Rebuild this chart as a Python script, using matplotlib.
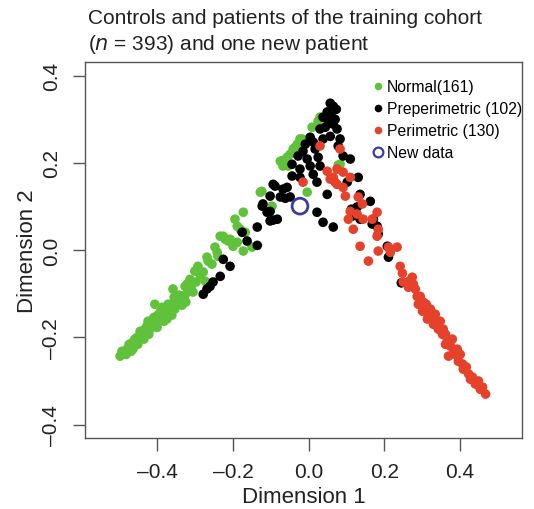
import matplotlib

matplotlib.use("Agg")
import matplotlib.pyplot as plt  # noqa: E402
from matplotlib.lines import Line2D  # noqa: E402

# --- data (dimension 1 / dimension 2) ---------------------------------------
normal_x = [
    -0.499, -0.489, -0.481, -0.473, -0.465, -0.465, -0.457, -0.454, -0.446, -0.446,
    -0.438, -0.433, -0.428, -0.428, -0.420, -0.420, -0.412, -0.407, -0.404, -0.399,
    -0.393, -0.385, -0.380, -0.375, -0.367, -0.367, -0.359, -0.359, -0.354, -0.346,
    -0.340, -0.335, -0.327, -0.327, -0.319, -0.314, -0.306, -0.301, -0.293, -0.274,
    -0.269, -0.266, -0.242, -0.240, -0.234, -0.226, -0.213, -0.208, -0.200, -0.195,
    -0.189, -0.189, -0.173, -0.173, -0.168, -0.150, -0.128, -0.124, -0.097, -0.075,
    -0.068, -0.057, -0.054, -0.068, -0.041, -0.036, -0.023, -0.017, -0.004, 0.025,
    0.030, 0.078, 0.083, -0.049, -0.030, 0.009,
    -0.494, -0.483, -0.475, -0.470, -0.460, -0.452, -0.441, -0.436, -0.425, -0.423,
    -0.415, -0.409, -0.401, -0.396, -0.388, -0.383, -0.377, -0.372, -0.362, -0.356,
    -0.351, -0.343, -0.332, -0.325, -0.322, -0.311, -0.298, -0.287, -0.279, -0.256,
    -0.248, -0.221, -0.181,
]
normal_y = [
    -0.243, -0.234, -0.227, -0.220, -0.211, -0.227, -0.211, -0.200, -0.186, -0.200,
    -0.197, -0.181, -0.174, -0.188, -0.170, -0.181, -0.158, -0.124, -0.165, -0.149,
    -0.142, -0.151, -0.135, -0.158, -0.128, -0.142, -0.089, -0.124, -0.135, -0.117,
    -0.112, -0.126, -0.083, -0.103, -0.094, -0.067, -0.096, -0.048, -0.037, -0.071,
    -0.016, -0.025, -0.005, -0.014, 0.032, 0.032, 0.021, 0.025, 0.009, 0.071,
    0.055, 0.018, 0.087, -0.002, 0.041, 0.007, 0.133, 0.135, 0.101, 0.204,
    0.193, 0.213, 0.193, 0.206, 0.232, 0.236, 0.255, 0.255, 0.133, 0.296,
    0.305, 0.195, 0.197, 0.220, 0.243, 0.282,
    -0.232, -0.239, -0.216, -0.232, -0.204, -0.216, -0.193, -0.204, -0.163, -0.193,
    -0.177, -0.154, -0.177, -0.158, -0.131, -0.163, -0.144, -0.124, -0.149, -0.108,
    -0.126, -0.103, -0.112, -0.119, -0.078, -0.087, -0.073, -0.057, -0.050, -0.032,
    0.007, 0.025, 0.048,
]

prep_x = [
    -0.279, -0.269, -0.261, -0.253, -0.234, -0.226, -0.208, -0.176, -0.163, -0.136,
    -0.136, -0.123, -0.110, -0.102, -0.094, -0.083, -0.121, -0.102, -0.094, -0.089,
    -0.075, -0.068, -0.062, -0.057, -0.049, -0.102,
    0.065, 0.057, 0.073, 0.049, 0.060, 0.052, 0.070, 0.030, 0.044, 0.075,
    0.057, 0.083, 0.012, -0.009, 0.004, 0.038, -0.015, -0.028, -0.044, -0.023,
    -0.044, -0.023, 0.004, 0.012, 0.025, 0.030, 0.022, 0.078, 0.091, 0.110,
    0.131, 0.102, 0.049, 0.038, 0.065, 0.017, -0.004,
    0.136, 0.163, 0.128, 0.115, 0.022, 0.038, 0.065, 0.171, 0.181, 0.184,
    0.208, 0.211, 0.113, 0.136, 0.168, 0.245,
]
prep_y = [
    -0.101, -0.089, -0.083, -0.073, -0.060, -0.021, -0.037, 0.041, 0.021, 0.053,
    0.011, 0.101, 0.087, 0.067, 0.069, 0.071, 0.106, 0.124, 0.151, 0.147,
    0.122, 0.140, 0.119, 0.144, 0.122, 0.089,
    0.330, 0.337, 0.323, 0.317, 0.307, 0.294, 0.300, 0.278, 0.282, 0.278,
    0.261, 0.255, 0.248, 0.243, 0.259, 0.255, 0.227, 0.216, 0.197, 0.186,
    0.170, 0.167, 0.193, 0.174, 0.213, 0.193, 0.156, 0.239, 0.216, 0.209,
    0.167, 0.156, 0.128, 0.305, 0.289, 0.232, 0.209,
    0.128, 0.112, 0.099, 0.078, 0.087, 0.064, 0.053, 0.071, 0.055, 0.037,
    0.009, -0.016, 0.094, 0.071, 0.060, -0.075,
]

peri_x = [
    0.030, 0.083, -0.015, 0.049, 0.065, 0.075, 0.075, 0.091, 0.070, 0.110,
    0.091, 0.057, 0.097, 0.131, 0.142, 0.110, 0.128, 0.105, 0.144, 0.181,
    0.168, 0.184, 0.118, 0.181, 0.136, 0.184, 0.211, 0.234, 0.216, 0.158,
    0.242, 0.248, 0.274, 0.250, 0.277, 0.264, 0.287, 0.295, 0.303, 0.301,
    0.322, 0.335, 0.314, 0.330, 0.343, 0.354, 0.367, 0.375, 0.370, 0.388,
    0.396, 0.409, 0.423, 0.428, 0.441, 0.454, 0.468,
    0.311, 0.317, 0.348, 0.356, 0.362, 0.380, 0.383, 0.401, 0.407, 0.417,
    0.433, 0.449, 0.460, 0.282, 0.290, 0.266, 0.327, 0.338, 0.362, 0.393,
]
peri_y = [
    0.239, 0.232, 0.156, 0.181, 0.167, 0.151, 0.186, 0.179, 0.156, 0.167,
    0.144, 0.163, 0.124, 0.122, 0.106, 0.089, 0.083, 0.071, 0.071, 0.087,
    0.071, 0.048, 0.048, 0.032, 0.009, -0.002, 0.007, 0.007, -0.005, -0.025,
    -0.037, -0.053, -0.062, -0.073, -0.078, -0.085, -0.106, -0.106, -0.119, -0.140,
    -0.135, -0.147, -0.158, -0.170, -0.181, -0.193, -0.204, -0.220, -0.243, -0.239,
    -0.255, -0.273, -0.284, -0.296, -0.307, -0.319, -0.330,
    -0.124, -0.149, -0.163, -0.181, -0.216, -0.204, -0.227, -0.239, -0.261, -0.268,
    -0.291, -0.300, -0.314, -0.089, -0.124, -0.071, -0.154, -0.172, -0.193, -0.227,
]

new_x = [-0.023]
new_y = [0.101]

labels = ["Normal(161)", "Preperimetric (102)", "Perimetric (130)", "New data"]

C_GREEN = "#5fc23a"
C_BLACK = "#000000"
C_RED = "#e5412b"
C_BLUE = "#3a3aaa"
INK = "#222222"

plt.rcParams["font.family"] = ["Liberation Sans", "DejaVu Sans"]

fig = plt.figure(figsize=(5.34, 5.10), dpi=100)
ax = fig.add_axes([0.159, 0.139, 0.819, 0.737])

ms = 48
ax.scatter(normal_x, normal_y, s=ms, c=C_GREEN, edgecolors="none", zorder=3)
ax.scatter(prep_x, prep_y, s=ms, c=C_BLACK, edgecolors="none", zorder=4)
ax.scatter(peri_x, peri_y, s=ms, c=C_RED, edgecolors="none", zorder=5)
ax.scatter(new_x, new_y, s=130, facecolors="none", edgecolors=C_BLUE,
           linewidths=2.0, zorder=6)

ax.set_xlim(-0.592, 0.565)
ax.set_ylim(-0.431, 0.431)
ax.set_xticks([-0.4, -0.2, 0.0, 0.2, 0.4])
ax.set_yticks([-0.4, -0.2, 0.0, 0.2, 0.4])
ax.set_xticklabels(["\u20130.4", "\u20130.2", "0.0", "0.2", "0.4"])
ax.set_yticklabels(["\u20130.4", "\u20130.2", "0.0", "0.2", "0.4"],
                   rotation=90, va="center")
ax.tick_params(length=9, width=1.0, color="#555555", labelsize=15, pad=8,
               labelcolor=INK)
for sp in ax.spines.values():
    sp.set_color("#555555")
    sp.set_linewidth(1.0)

ax.set_xlabel("Dimension 1", fontsize=16, color=INK, labelpad=4)
ax.set_ylabel("Dimension 2", fontsize=16, color=INK, labelpad=3)

fig.text(0.165, 0.963, "Controls and patients of the training cohort",
         fontsize=15, color=INK, ha="left", va="center")
fig.text(0.165, 0.913, "($n$ = 393) and one new patient",
         fontsize=15, color=INK, ha="left", va="center")

handles = [
    Line2D([0], [0], marker="o", color="none", markerfacecolor=C_GREEN,
           markeredgecolor="none", markersize=5.5),
    Line2D([0], [0], marker="o", color="none", markerfacecolor=C_BLACK,
           markeredgecolor="none", markersize=5.5),
    Line2D([0], [0], marker="o", color="none", markerfacecolor=C_RED,
           markeredgecolor="none", markersize=5.5),
    Line2D([0], [0], marker="o", color="none", markerfacecolor="none",
           markeredgecolor=C_BLUE, markeredgewidth=1.6, markersize=7),
]
ax.legend(handles, labels, loc="upper left", bbox_to_anchor=(0.644, 0.972),
          frameon=False, fontsize=11.3, handlelength=0.6, handletextpad=0.3,
          labelspacing=0.45, borderaxespad=0.0)

fig.savefig("out.png", dpi=100, facecolor="white")
